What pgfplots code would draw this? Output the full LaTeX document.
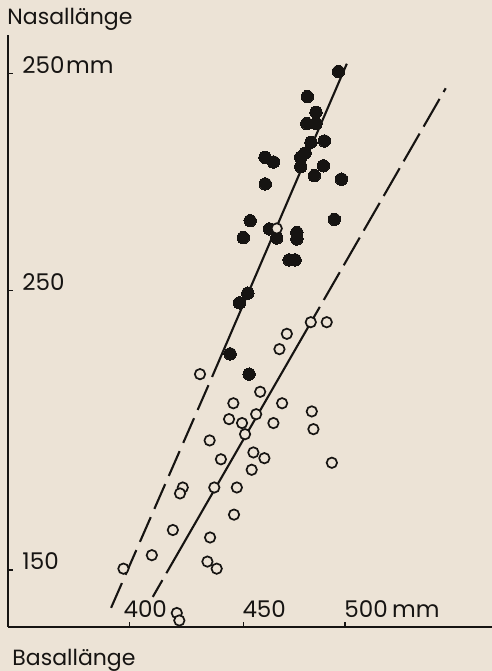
\documentclass[border=0pt]{standalone}
\usepackage{fontspec}
\setmainfont{Poppins}
\usepackage{pgfplots}
\pgfplotsset{compat=1.18}
\definecolor{bg}{RGB}{236,227,214}
\definecolor{ink}{RGB}{22,20,18}
\begin{document}
\begin{tikzpicture}
\path[use as bounding box, fill=bg] (-4pt,-22pt) rectangle (242pt,313.5pt);
\begin{axis}[
  scale only axis, width=242pt, height=296pt,
  xmode=log, ymode=log,
  xmin=353, xmax=582, ymin=141.45, ymax=260.2,
  axis x line*=bottom, axis y line*=left,
  axis line style={-, line width=1.2pt, ink},
  tick pos=left,
  xtick={400,450,500}, xticklabels={\hspace{-2.5pt}400,450,500\hspace{2.2pt}mm},
  ytick={150,200,250}, yticklabels={150,250,250\hspace{0.8pt}mm},
  minor tick num=0,
  tick align=inside, major tick length=2.5pt,
  tick style={line width=0.6pt, ink},
  xticklabel style={anchor=base west, inner sep=0pt, yshift=4.5pt, xshift=-0.5pt, font=\fontsize{11.5}{12}\selectfont, text=ink},
  yticklabel style={anchor=base west, inner sep=0pt, xshift=7pt, font=\fontsize{11.5}{12}\selectfont, text=ink},
  clip=false,
]
% fitted lines (straight on log-log axes)
\addplot[ink, line width=1.05pt, dash pattern=on 13.5pt off 4.5pt, dash phase=13.5pt] coordinates {(435.8,183.0) (392.2,143.9)};
\addplot[ink, line width=1.05pt] coordinates {(435.8,183.0) (500.9,252.6)};
\addplot[ink, line width=1.05pt, dash pattern=on 16pt off 4pt, dash phase=16pt] coordinates {(415.7,149.5) (409.9,145.9)};
\addplot[ink, line width=1.05pt] coordinates {(415.7,149.5) (487.1,196.7)};
\addplot[ink, line width=1.05pt, dash pattern=on 16pt off 4pt, dash phase=16pt] coordinates {(487.1,196.7) (554.8,246.3)};
% filled circles
\addplot[only marks, mark=*, mark size=3.1pt, mark options={fill=ink, draw=ink, line width=0pt}] table {
x y
496.6 250.6
480.9 244.2
485.2 240.3
480.6 237.5
485.2 237.5
482.7 233.0
489.4 233.3
460.3 229.4
464.3 228.3
479.8 230.4
477.6 229.4
477.6 227.2
488.9 227.4
484.4 225.1
498.1 224.3
460.4 223.2
453.3 214.9
494.5 215.2
462.4 213.1
450.1 211.2
465.9 211.1
475.7 212.3
475.7 210.9
471.9 206.4
474.8 206.4
452.2 199.5
448.3 197.5
444.0 187.4
452.8 183.5
};
% open circles
\addplot[only marks, mark=*, mark size=2.6pt, mark options={fill=bg, draw=ink, line width=0.85pt}] table {
x y
465.9 213.2
482.6 193.6
490.6 193.6
470.8 191.3
467.2 188.3
430.4 183.5
458.0 180.2
445.5 178.1
468.5 178.1
456.1 176.1
483.1 176.6
443.5 175.2
449.5 174.5
464.3 174.5
483.9 173.4
450.9 172.5
434.7 171.4
439.8 168.1
454.8 169.3
460.0 168.3
454.0 166.3
493.2 167.5
422.8 163.3
421.6 162.3
436.8 163.3
447.1 163.3
445.8 158.8
418.5 156.3
434.9 155.1
409.5 152.3
397.7 150.2
433.7 151.3
437.9 150.2
420.2 143.5
421.3 142.4
};
\node[anchor=base west, inner sep=0pt, font=\fontsize{11}{12}\selectfont, text=ink] at (rel axis cs:0,1) [xshift=-0.5pt, yshift=5pt] {Nasallänge};
\node[anchor=base west, inner sep=0pt, font=\fontsize{11}{12}\selectfont, text=ink] at (rel axis cs:0,0) [xshift=2pt, yshift=-19.5pt] {Basallänge};
\end{axis}
\end{tikzpicture}
\end{document}
